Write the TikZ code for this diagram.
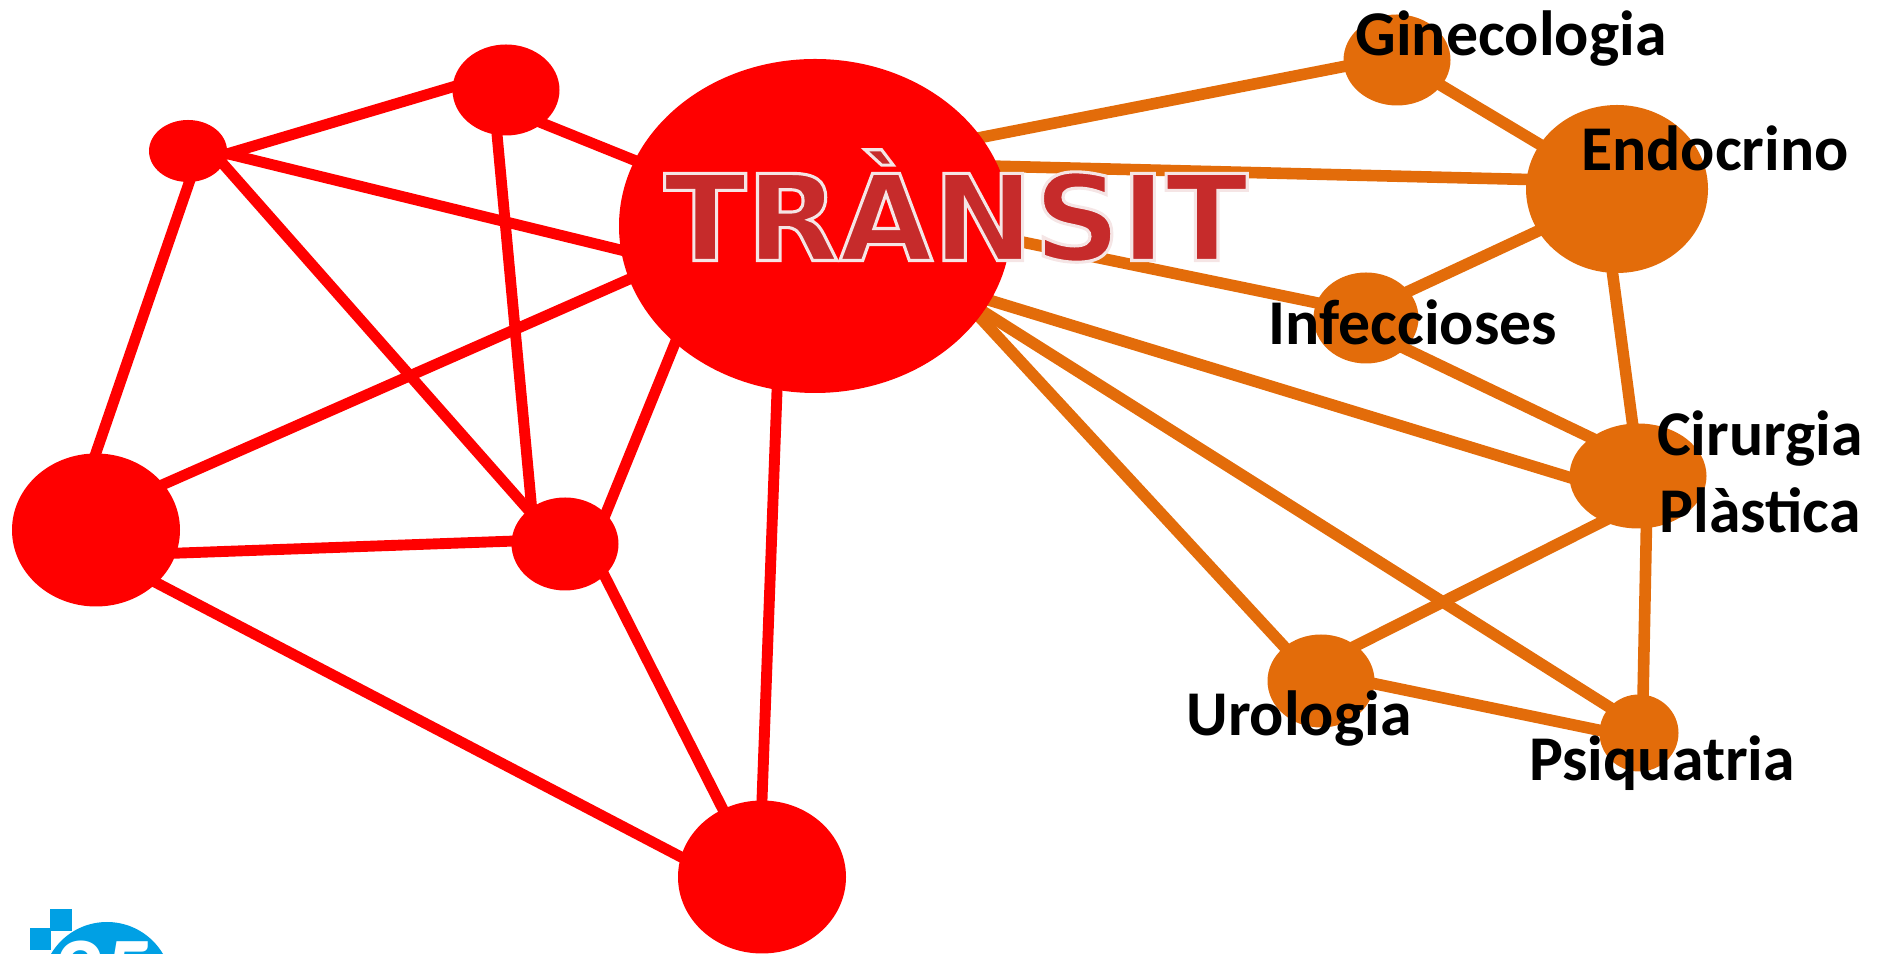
\documentclass[tikz,border=0pt]{standalone}
\usepackage{fontspec}
\setmainfont{Carlito}
\newfontfamily\wordfont{DejaVu Sans Bold}[FakeBold=2.6,FakeStretch=1.01]
\usetikzlibrary{shapes.geometric,backgrounds}
\definecolor{netred}{HTML}{FF0000}
\definecolor{netorange}{HTML}{E36C0A}
\definecolor{wordred}{HTML}{C62B2B}
\definecolor{logoblue}{HTML}{00A0E4}
\tikzset{
  orb/.style={ellipse,inner sep=0pt,fill=#1},
  redlink/.style={draw=netred,line width=3.1pt,shorten >=-3pt,shorten <=-3pt},
  orangelink/.style={draw=netorange,line width=3.3pt,shorten >=-3pt,shorten <=-3pt},
  tag/.style={font=\bfseries\fontsize{18.15}{21.8}\selectfont,align=center,inner sep=0pt}
}
\begin{document}
\begin{tikzpicture}
\useasboundingbox (0,0) rectangle (18.79,-9.54);

\node(transit) at (8.15,-2.26) [orb=netred,minimum width=3.92cm,minimum height=3.34cm]{};
\node(ra) at (1.88,-1.51) [orb=netred,minimum width=.78cm,minimum height=.62cm]{};
\node(rb) at (5.06,-.90) [orb=netred,minimum width=1.07cm,minimum height=.91cm]{};
\node(rc) at (.96,-5.30) [orb=netred,minimum width=1.68cm,minimum height=1.53cm]{};
\node(rd) at (5.65,-5.44) [orb=netred,minimum width=1.07cm,minimum height=.93cm]{};
\node(re) at (7.62,-8.77) [orb=netred,minimum width=1.68cm,minimum height=1.53cm]{};

\node(gine) at (13.97,-.60) [orb=netorange,minimum width=1.07cm,minimum height=.91cm]{};
\node(endo) at (16.17,-1.89) [orb=netorange,minimum width=1.82cm,minimum height=1.68cm]{};
\node(infe) at (13.66,-3.18) [orb=netorange,minimum width=1.05cm,minimum height=.91cm]{};
\node(ciru) at (16.38,-4.76) [orb=netorange,minimum width=1.37cm,minimum height=1.05cm]{};
\node(urol) at (13.21,-6.81) [orb=netorange,minimum width=1.07cm,minimum height=.93cm]{};
\node(psiq) at (16.39,-7.33) [orb=netorange,minimum width=.79cm,minimum height=.77cm]{};

\begin{scope}[on background layer]
\draw [redlink] (ra.356) -- (rb.177);
\draw [redlink] (ra.356) -- (transit.187.5);
\draw [redlink] (rb.318) -- (transit.160);
\draw [redlink] (ra.272) -- (rc.90);
\draw [redlink] (ra.339) -- (rd.137);
\draw [redlink] (rb.259) -- (rd.132);
\draw [redlink] (transit.196) -- (rc.34);
\draw [redlink] (transit.220) -- (rd.37);
\draw [redlink] (transit.257) -- (re.90);
\draw [redlink] (rc.344) -- (rd.177);
\draw [redlink] (rc.319) -- (re.166);
\draw [redlink] (rd.321) -- (re.120);

\draw [orangelink] (transit.28.5) -- (gine.187);
\draw [orangelink] (transit.18.2) -- (endo.174);
\draw [orangelink] (transit.-4.5) -- (infe.163);
\draw [orangelink] (transit.-23.8) -- (ciru.181);
\draw [orangelink] (transit.-27.2) -- (psiq.139);
\draw [orangelink] (transit.-29.7) -- (urol.137);
\draw [orangelink] (gine.330) -- (endo.150.6);
\draw [orangelink] (endo.208) -- (infe.32);
\draw [orangelink] (endo.267) -- (ciru.96);
\draw [orangelink] (infe.322) -- (ciru.141);
\draw [orangelink] (ciru.232) -- (urol.45);
\draw [orangelink] (ciru.279) -- (psiq.84);
\draw [orangelink] (urol.357) -- (psiq.176);
\end{scope}

\node(word) at (9.56,-2.06) [inner sep=0pt,text=wordred]
  {\wordfont\fontsize{34}{34}\selectfont\special{pdf:code 0.96 0.9 0.9 RG}TRÀNSIT};

\node(lgine) at (15.11,-.39) [tag]{Ginecologia};
\node(lendo) at (17.15,-1.48) [tag]{Endocrino};
\node(linfe) at (14.13,-3.22) [tag]{Infeccioses};
\node(lciru) at (17.60,-4.72) [tag]{Cirurgia\\Plàstica};
\node(lurol) at (12.99,-7.19) [tag]{Urologia};
\node(lpsiq) at (16.62,-7.63) [tag]{Psiquatria};

% logo, cut by the lower edge
\begin{scope}
\clip (0,0) rectangle (18.79,-9.54);
\fill[logoblue] (.50,-9.09) rectangle (.72,-9.31);
\fill[logoblue] (.30,-9.28) rectangle (.51,-9.50);
\fill[logoblue] (1.07,-9.87) circle (.65);
\node(logo) at (1.05,-9.74) [text=white,inner sep=0pt,font=\bfseries\fontsize{28}{28}\selectfont]{25};
\end{scope}
\end{tikzpicture}
\end{document}
